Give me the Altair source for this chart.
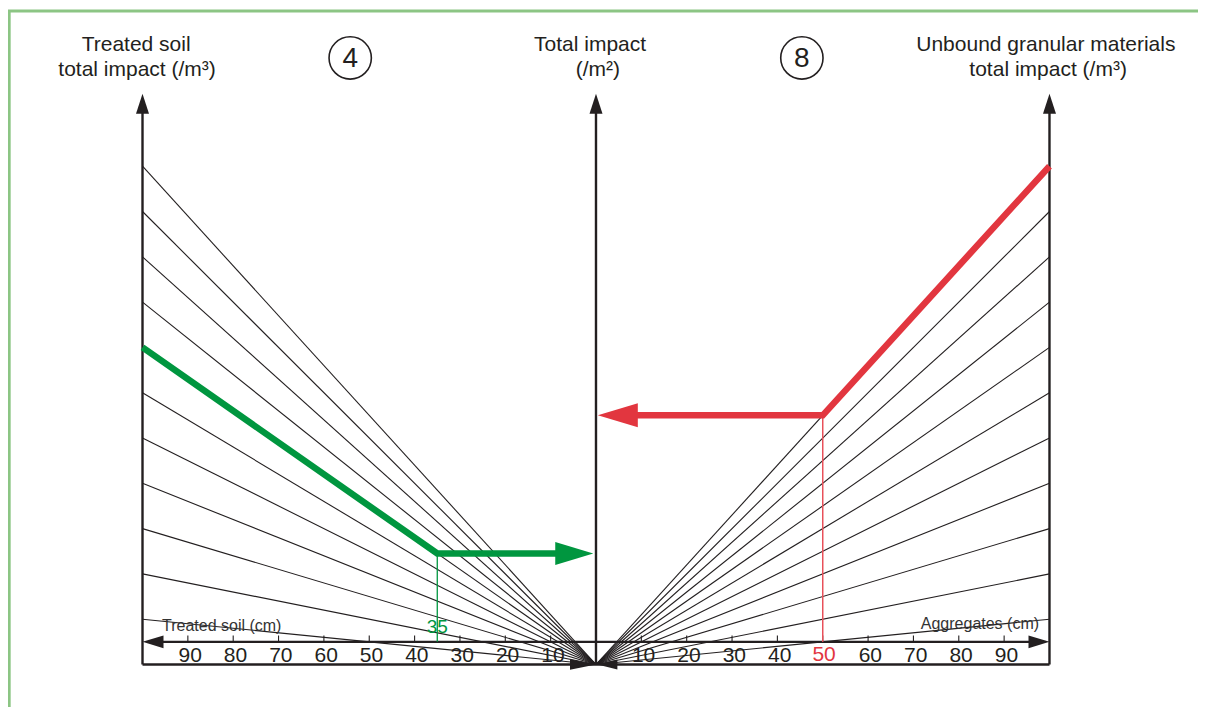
import altair as alt
import pandas as pd

# ---------------- data ----------------
fan_impacts = [10, 20, 30, 40, 50, 60, 70, 80, 90, 100, 110]   # impact reached at 100 cm
left_ticks = [90, 80, 70, 60, 50, 40, 30, 20, 10]               # treated soil (cm)
right_ticks = [10, 20, 30, 40, 50, 60, 70, 80, 90]              # aggregates (cm)
axis_max_cm = 100
axis_top = 126
scale_axis_level = 5

green_depth = 35      # treated soil thickness (cm)
green_fan = 70        # treated soil impact line
red_depth = 50        # aggregates thickness (cm)
red_fan = 110         # aggregates impact line

left_title = ["Treated soil", "total impact (/m³)"]
center_title = ["Total impact", "(/m²)"]
right_title = ["Unbound granular materials", "total impact (/m³)"]

INK = "#231f20"
GREEN = "#00963f"
RED = "#e2363f"
FRAME = "#8cc584"

xs = alt.Scale(domain=[-129.66, 132.75], nice=False, zero=False)
ys = alt.Scale(domain=[-9.38, 144.92], nice=False, zero=False)

def X(f="x"):
    return alt.X(f"{f}:Q", scale=xs, axis=None)

def Y(f="y"):
    return alt.Y(f"{f}:Q", scale=ys, axis=None)

def rules(rows, color, width):
    df = pd.DataFrame(rows, columns=["x", "y", "x2", "y2"])
    return alt.Chart(df).mark_rule(color=color, strokeWidth=width, strokeCap="butt").encode(
        x=X(), y=Y(), x2="x2:Q", y2="y2:Q")

def texts(rows, size, color, align="center", baseline="alphabetic", font="Liberation Sans"):
    df = pd.DataFrame(rows, columns=["x", "y", "t"])
    return alt.Chart(df).mark_text(fontSize=size, color=color, align=align, baseline=baseline,
                                   font=font).encode(x=X(), y=Y(), text="t:N")

# frame
frame = rules([[-129.66, 144.26, 132.75, 144.26], [-129.4, -9.38, -129.4, 144.26]], FRAME, 3)

# fan lines
fan_rows = []
for v in fan_impacts:
    fan_rows.append([0, 0, -axis_max_cm, v])
    fan_rows.append([0, 0, axis_max_cm, v])
fans = rules(fan_rows, INK, 1.1)

# axes
axes = rules([
    [-axis_max_cm, 0, -axis_max_cm, axis_top - 2],
    [0, 0, 0, axis_top - 2],
    [axis_max_cm, 0, axis_max_cm, axis_top - 2],
    [-axis_max_cm + 2, scale_axis_level, axis_max_cm - 2, scale_axis_level],
    [-axis_max_cm, 0, axis_max_cm, 0],
], INK, 2.4)

tick_rows = [[-t, scale_axis_level, -t, scale_axis_level + 1.4] for t in left_ticks] + \
            [[t, scale_axis_level, t, scale_axis_level + 1.4] for t in right_ticks]
ticks = rules(tick_rows, INK, 1.1)

# reading paths
g_y = green_fan * green_depth / axis_max_cm
r_y = red_fan * red_depth / axis_max_cm
green_guide = rules([[-green_depth, g_y, -green_depth, scale_axis_level]], GREEN, 1.3)
red_guide = rules([[red_depth, r_y, red_depth, scale_axis_level]], "#e8505a", 1.5)

green_df = pd.DataFrame({"x": [-axis_max_cm, -green_depth, -6], "y": [green_fan, g_y, g_y], "o": [0, 1, 2]})
green_path = alt.Chart(green_df).mark_line(color=GREEN, strokeWidth=6.5, strokeJoin="miter").encode(
    x=X(), y=Y(), order="o:Q")
red_df = pd.DataFrame({"x": [axis_max_cm, red_depth, 6], "y": [red_fan, r_y, r_y], "o": [0, 1, 2]})
red_path = alt.Chart(red_df).mark_line(color=RED, strokeWidth=6.5, strokeJoin="miter").encode(
    x=X(), y=Y(), order="o:Q")

# arrowheads
UP = "M0,0L0.325,1L-0.325,1Z"
RIGHT = "M0,0L-1,-0.3L-1,0.3Z"
LEFT = "M0,0L1,-0.3L1,0.3Z"
RIGHT_S = "M0,0L-1,-0.2L-1,0.2Z"
LEFT_S = "M0,0L1,-0.25L1,0.25Z"
heads = pd.DataFrame([
    [-axis_max_cm, axis_top, UP, 1600, INK],
    [0, axis_top, UP, 1600, INK],
    [axis_max_cm, axis_top, UP, 1600, INK],
    [-axis_max_cm, scale_axis_level, LEFT, 1764, INK],
    [axis_max_cm, scale_axis_level, RIGHT, 1764, INK],
    [0, 0, RIGHT_S, 2704, INK],
    [0.3, 0, LEFT_S, 1600, INK],
    [-0.6, g_y, RIGHT, 5776, GREEN],
    [0.4, r_y, LEFT, 6400, RED],
], columns=["x", "y", "shape", "size", "color"])
arrowheads = alt.Chart(heads).mark_point(filled=True, opacity=1, strokeWidth=0).encode(
    x=X(), y=Y(),
    shape=alt.Shape("shape:N", scale=None),
    size=alt.Size("size:Q", scale=None),
    color=alt.Color("color:N", scale=None))

# circled numbers
circ_df = pd.DataFrame({"x": [-54.2, 45.4], "y": [133.9, 133.9], "t": ["4", "8"]})
circles = alt.Chart(circ_df).mark_point(shape="circle", size=1790, filled=False, opacity=1,
                                        color=INK, strokeWidth=1.6).encode(x=X(), y=Y())
circ_text = alt.Chart(circ_df).mark_text(fontSize=28, color=INK, baseline="middle", dy=1,
                                         font="Liberation Sans").encode(x=X(), y=Y(), text="t:N")

# titles
titles = texts([
    [-101.4, 135.5, left_title[0]], [-101.2, 129.9, left_title[1]],
    [-1.3, 135.5, center_title[0]], [0.4, 129.9, center_title[1]],
    [99.2, 135.5, right_title[0]], [99.7, 129.9, right_title[1]],
], 21, INK)

# tick labels
lab_rows = [[-t + 0.5, 0.5, str(t)] for t in left_ticks] + \
           [[t + 0.5, 0.5, str(t)] for t in right_ticks if t != red_depth]
tick_labels = texts(lab_rows, 21, INK)
red_label = texts([[red_depth + 0.3, 0.8, str(red_depth)]], 21, RED)
green_label = texts([[-green_depth, 6.9, str(green_depth)]], 19, GREEN)
axis_names = texts([[-95.7, 7.5, "Treated soil (cm)"]], 16, "#333333", align="left") + \
             texts([[97.7, 7.8, "Aggregates (cm)"]], 16, "#333333", align="right")

chart = alt.layer(
    frame, fans, axes, ticks, green_guide, red_guide, green_path, red_path, arrowheads,
    circles, circ_text, titles, tick_labels, red_label, green_label, axis_names
).properties(
    width=1190, height=699, padding=0, background="white",
    autosize=alt.AutoSizeParams(type="none")
).configure_view(stroke=None)

chart.save("out.html", embed_options={"renderer": "svg", "actions": False})
